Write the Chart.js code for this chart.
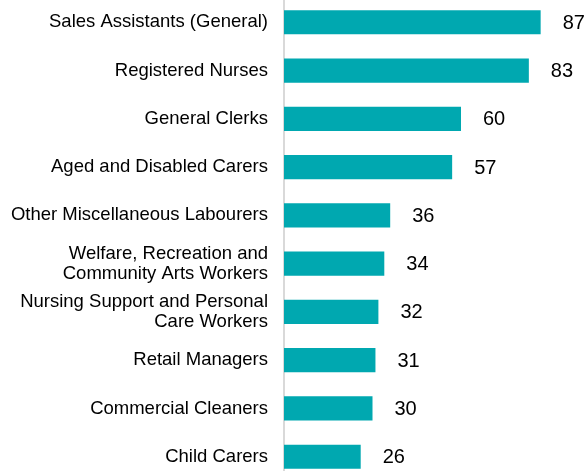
<!DOCTYPE html>
<html>
<head>
<meta charset="utf-8">
<script src="https://cdn.jsdelivr.net/npm/chart.js@4/dist/chart.umd.min.js"></script>
<style>
  html, body { margin: 0; padding: 0; background: #fff; overflow: hidden; }
  /* taller than the window: the plot area itself runs just past the top and bottom edges */
  #wrap { position: absolute; left: 0; top: -28px; width: 586px; height: 535px; }
</style>
</head>
<body>
<div id="wrap"><canvas id="occupations"></canvas></div>
<script>
// occupation labels (multi-line ones as arrays)
var categories = [
    "Sales Assistants (General)",
    "Registered Nurses",
    "General Clerks",
    "Aged and Disabled Carers",
    "Other Miscellaneous Labourers",
    ["Welfare, Recreation and", "Community Arts Workers"],
    ["Nursing Support and Personal", "Care Workers"],
    "Retail Managers",
    "Commercial Cleaners",
    "Child Carers"
];
var values = [87, 83, 60, 57, 36, 34, 32, 31, 30, 26];

// value labels to the right of each bar
var valueLabels = {
    id: 'valueLabels',
    afterDatasetsDraw: function (chart) {
        var ctx = chart.ctx;
        var meta = chart.getDatasetMeta(0);
        ctx.save();
        ctx.font = '20px "Liberation Sans", Arial, sans-serif';
        ctx.fillStyle = '#000000';
        ctx.textAlign = 'left';
        ctx.textBaseline = 'middle';
        meta.data.forEach(function (bar, i) {
            ctx.fillText(values[i], bar.x + 22, bar.y + 1);
        });
        ctx.restore();
    }
};

var ctx = document.getElementById("occupations").getContext("2d");
new Chart(ctx, {
    type: 'bar',
    data: {
        labels: categories,
        datasets: [{
            data: values,
            backgroundColor: '#00A8B0',
            borderWidth: 0,
            categoryPercentage: 1,
            barPercentage: 0.5
        }]
    },
    options: {
        indexAxis: 'y',
        responsive: true,
        maintainAspectRatio: false,
        animation: false,
        layout: { autoPadding: false, padding: { left: 0, right: 7, top: 0, bottom: 0 } },
        plugins: {
            legend: { display: false },
            tooltip: { enabled: false }
        },
        scales: {
            x: {
                display: false,
                min: 0,
                max: 100
            },
            y: {
                afterFit: function (scale) { scale.width = 284; },
                grid: { display: false, drawTicks: false },
                border: { display: true, color: '#D9D9D9', width: 2 },
                ticks: {
                    color: '#000000',
                    padding: 16,
                    font: { family: '"Liberation Sans", Arial, sans-serif', size: 18.5, lineHeight: 1.1 }
                }
            }
        }
    },
    plugins: [valueLabels]
});
</script>
</body>
</html>
